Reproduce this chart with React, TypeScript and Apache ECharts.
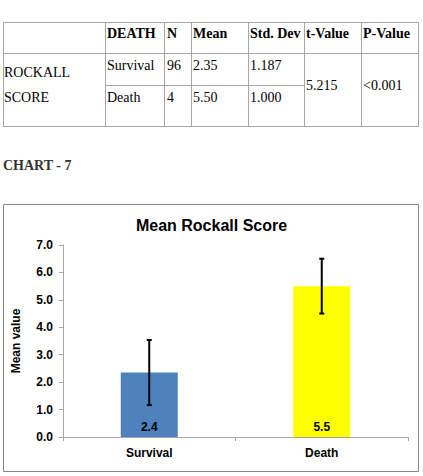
import React, { useEffect, useRef } from "react";
import * as echarts from "echarts";

// Rockall score by outcome
const categories = ["Survival", "Death"];
const counts = [96, 4];
const means = [2.35, 5.5];
const stdDevs = [1.187, 1.0];
const tValue = "5.215";
const pValue = "<0.001";
const headers = ["", "DEATH", "N", "Mean", "Std. Dev", "t-Value", "P-Value"];
const barColors = ["#4F81BD", "#FFFF00"];

const SERIF = "'Liberation Serif', 'Times New Roman', serif";
const SANS = "'Liberation Sans', Arial, sans-serif";

// table geometry
const colX = [3, 105, 164, 191, 248, 304, 361, 418];
const rowY = [22, 53, 85, 126];
const lineColor = "#a6a6a6";

function Txt(props: { x: number; cy: number; text: string; bold?: boolean }) {
  return (
    <div
      style={{
        position: "absolute",
        left: props.x,
        top: props.cy - 9,
        height: 18,
        lineHeight: "18px",
        fontSize: 14,
        fontFamily: SERIF,
        fontWeight: props.bold ? "bold" : "normal",
        color: "#000",
        whiteSpace: "nowrap",
      }}
    >
      {props.text}
    </div>
  );
}

function HLine(props: { x1: number; x2: number; y: number }) {
  return (
    <div
      style={{
        position: "absolute",
        left: props.x1,
        top: props.y,
        width: props.x2 - props.x1 + 1,
        height: 1,
        background: lineColor,
      }}
    />
  );
}

function VLine(props: { x: number; y1: number; y2: number }) {
  return (
    <div
      style={{
        position: "absolute",
        left: props.x,
        top: props.y1,
        width: 1,
        height: props.y2 - props.y1 + 1,
        background: lineColor,
      }}
    />
  );
}

function StatsTable() {
  const textX = [4, 107, 167, 193, 250, 306, 363];
  const rowCy = [66, 98];
  return (
    <>
      <HLine x1={colX[0]} x2={colX[7]} y={rowY[0]} />
      <HLine x1={colX[0]} x2={colX[7]} y={rowY[1]} />
      <HLine x1={colX[1]} x2={colX[5]} y={rowY[2]} />
      <HLine x1={colX[0]} x2={colX[7]} y={rowY[3]} />
      {colX.map((x, i) => (
        <VLine key={"v" + i} x={x} y1={rowY[0]} y2={rowY[3]} />
      ))}
      {headers.map((h, i) =>
        h ? <Txt key={"h" + i} x={textX[i]} cy={34} text={h} bold /> : null
      )}
      <Txt x={textX[0]} cy={73} text="ROCKALL" />
      <Txt x={textX[0]} cy={98} text="SCORE" />
      {categories.map((c, r) => (
        <React.Fragment key={"r" + r}>
          <Txt x={textX[1]} cy={rowCy[r]} text={c} />
          <Txt x={textX[2]} cy={rowCy[r]} text={String(counts[r])} />
          <Txt x={textX[3]} cy={rowCy[r]} text={means[r].toFixed(2)} />
          <Txt x={textX[4]} cy={rowCy[r]} text={stdDevs[r].toFixed(3)} />
        </React.Fragment>
      ))}
      <Txt x={textX[5]} cy={86} text={tValue} />
      <Txt x={textX[6]} cy={86} text={pValue} />
    </>
  );
}

export default function App() {
  const ref = useRef<HTMLDivElement>(null);

  useEffect(() => {
    if (!ref.current) return;
    const chart = echarts.init(ref.current, null, { renderer: "svg" });
    const errorData = means.map((m, i) => [i, m - stdDevs[i], m + stdDevs[i]]);
    const labelFont = { fontFamily: SANS, fontSize: 12, fontWeight: "bold", color: "#000" };

    chart.setOption({
      animation: false,
      backgroundColor: "transparent",
      title: {
        text: "Mean Rockall Score",
        left: "center",
        top: 212,
        textStyle: { fontFamily: SANS, fontSize: 16, fontWeight: "bold", color: "#000" },
      },
      graphic: [
        {
          type: "rect",
          shape: { x: 3.5, y: 204.5, width: 415, height: 267 },
          style: { fill: "none", stroke: "#868686", lineWidth: 1 },
          silent: true,
        },
      ],
      grid: { left: 63, right: 15, top: 245, bottom: 39 },
      xAxis: {
        type: "category",
        data: categories,
        boundaryGap: true,
        axisLine: { lineStyle: { color: "#a6a6a6", width: 1 } },
        axisTick: { show: true, length: 4, lineStyle: { color: "#a6a6a6" } },
        axisLabel: { margin: 10, ...labelFont },
      },
      yAxis: {
        type: "value",
        min: 0,
        max: 7,
        interval: 1,
        name: "Mean value",
        nameLocation: "middle",
        nameGap: 41,
        nameTextStyle: labelFont,
        splitLine: { show: false },
        axisLine: { show: true, lineStyle: { color: "#a6a6a6", width: 1 } },
        axisTick: { show: true, length: 4, lineStyle: { color: "#a6a6a6" } },
        axisLabel: {
          margin: 10,
          formatter: (v: number) => v.toFixed(1),
          ...labelFont,
        },
      },
      series: [
        {
          type: "bar",
          barWidth: 57,
          data: means.map((m, i) => ({ value: m, itemStyle: { color: barColors[i] } })),
          label: {
            show: true,
            position: "insideBottom",
            distance: 4,
            formatter: (p: any) => Number(p.value).toFixed(1),
            ...labelFont,
          },
        },
        {
          type: "custom",
          data: errorData,
          z: 10,
          renderItem: (params: any, api: any) => {
            const lo = api.coord([api.value(0), api.value(1)]);
            const hi = api.coord([api.value(0), api.value(2)]);
            const cap = 2.5;
            const style = { stroke: "#000", lineWidth: 2 };
            return {
              type: "group",
              children: [
                { type: "line", shape: { x1: hi[0], y1: hi[1], x2: lo[0], y2: lo[1] }, style },
                { type: "line", shape: { x1: hi[0] - cap, y1: hi[1], x2: hi[0] + cap, y2: hi[1] }, style },
                { type: "line", shape: { x1: lo[0] - cap, y1: lo[1], x2: lo[0] + cap, y2: lo[1] }, style },
              ],
            };
          },
        },
      ],
    });

    return () => chart.dispose();
  }, []);

  return (
    <div style={{ position: "fixed", left: 0, top: 0, width: 423, height: 476, background: "#fff" }}>
      <StatsTable />
      <div
        style={{
          position: "absolute",
          left: 3,
          top: 157,
          fontFamily: SERIF,
          fontWeight: "bold",
          fontSize: 14,
          lineHeight: "18px",
          color: "#333",
        }}
      >
        CHART - 7
      </div>
      <div ref={ref} style={{ position: "absolute", left: 0, top: 0, width: 423, height: 476 }} />
    </div>
  );
}
